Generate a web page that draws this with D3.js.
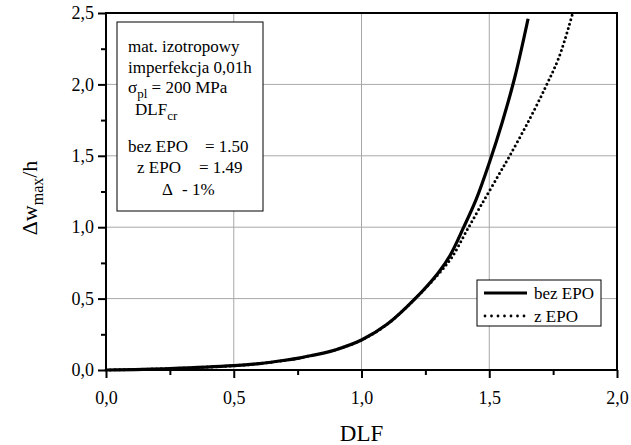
<!DOCTYPE html>
<html lang="pl">
<head>
    <meta charset="utf-8">
    <title>DLF</title>
    <script src="https://cdn.jsdelivr.net/npm/d3@7/dist/d3.min.js"></script>
    <style>
        body { margin: 0; background: #fff; }
    </style>
</head>
<body>
<script>
    // bez EPO (solid)
    var dlfBez = [0, 0.25, 0.5, 0.6, 0.7, 0.76, 0.8, 0.85, 0.9, 1.0, 1.1, 1.21, 1.3, 1.346, 1.4, 1.45, 1.5, 1.55, 1.6, 1.652];
    var wBez   = [0, 0.01, 0.03, 0.045, 0.068, 0.085, 0.1, 0.118, 0.142, 0.21, 0.32, 0.5, 0.68, 0.8, 1.0, 1.2, 1.45, 1.73, 2.05, 2.46];
    // z EPO (dotted)
    var dlfZ = [0, 0.25, 0.5, 0.6, 0.7, 0.76, 0.8, 0.85, 0.9, 1.0, 1.1, 1.21, 1.3, 1.354, 1.41, 1.47, 1.535, 1.58, 1.65, 1.72, 1.775, 1.825];
    var wZ   = [0, 0.01, 0.03, 0.045, 0.068, 0.085, 0.1, 0.118, 0.142, 0.21, 0.32, 0.5, 0.67, 0.79, 0.97, 1.16, 1.36, 1.5, 1.73, 1.98, 2.2, 2.49];

    var xMajor = [0, 0.5, 1.0, 1.5, 2.0];
    var xMinor = [0.25, 0.75, 1.25, 1.75];
    var yMajor = [0, 0.5, 1.0, 1.5, 2.0, 2.5];
    var yMinor = [0.25, 0.75, 1.25, 1.75, 2.25];

    var width = 631, height = 445;
    var mLeft = 106, mRight = 617, mTop = 13, mBottom = 370;

    // pick a Times-like font that is really installed
    var serif = (function() {
        var ctx = document.createElement("canvas").getContext("2d");
        var probe = "mat. izotropowy 0,01h";
        ctx.font = "40px monospace";
        var base = ctx.measureText(probe).width;
        var list = ["Liberation Serif", "Tinos", "Times New Roman", "Nimbus Roman", "DejaVu Serif", "Noto Serif"];
        for (var i = 0; i < list.length; i++) {
            ctx.font = "40px '" + list[i] + "', monospace";
            if (Math.abs(ctx.measureText(probe).width - base) > 1) return "'" + list[i] + "', serif";
        }
        return "serif";
    })();

    var x = d3.scaleLinear().domain([0, 2]).range([mLeft, mRight]);
    var y = d3.scaleLinear().domain([0, 2.5]).range([mBottom, mTop]);
    var fmt = function(d) { return d3.format(".1f")(d).replace(".", ","); };

    var svg = d3.select("body").append("svg")
        .attr("width", width)
        .attr("height", height)
        .style("font-family", serif);

    // grid
    svg.append("g").selectAll("line")
        .data(xMajor.slice(1, -1))
        .enter().append("line")
        .attr("x1", function(d) { return x(d); })
        .attr("x2", function(d) { return x(d); })
        .attr("y1", mTop).attr("y2", mBottom)
        .attr("stroke", "#a8a8a8").attr("stroke-width", 1);
    svg.append("g").selectAll("line")
        .data(yMajor.slice(1, -1))
        .enter().append("line")
        .attr("y1", function(d) { return y(d); })
        .attr("y2", function(d) { return y(d); })
        .attr("x1", mLeft).attr("x2", mRight)
        .attr("stroke", "#a8a8a8").attr("stroke-width", 1);

    // curves
    var line = d3.line()
        .x(function(d) { return x(d[0]); })
        .y(function(d) { return y(d[1]); })
        .curve(d3.curveCatmullRom);

    svg.append("path")
        .datum(d3.zip(dlfBez, wBez))
        .attr("d", line)
        .attr("fill", "none").attr("stroke", "#000")
        .attr("stroke-width", 3.2);

    svg.append("path")
        .datum(d3.zip(dlfZ, wZ))
        .attr("d", line)
        .attr("fill", "none").attr("stroke", "#000")
        .attr("stroke-width", 3)
        .attr("stroke-linecap", "round")
        .attr("stroke-dasharray", "0 4.6");

    // frame
    svg.append("rect")
        .attr("x", mLeft).attr("y", mTop)
        .attr("width", mRight - mLeft).attr("height", mBottom - mTop)
        .attr("fill", "none").attr("stroke", "#000").attr("stroke-width", 2);

    // axes
    function styleAxis(g) {
        g.attr("font-family", null).attr("font-size", null);
        g.select(".domain").remove();
        g.selectAll(".tick line").attr("stroke", "#000").attr("stroke-width", 2);
        g.selectAll(".tick text").style("font-size", "18px");
    }
    svg.append("g").attr("transform", "translate(0," + mBottom + ")")
        .call(d3.axisBottom(x).tickValues(xMajor).tickSize(8).tickPadding(13).tickFormat(fmt))
        .call(styleAxis);
    svg.append("g").attr("transform", "translate(0," + mBottom + ")")
        .call(d3.axisBottom(x).tickValues(xMinor).tickSize(5).tickFormat(""))
        .call(styleAxis);
    svg.append("g").attr("transform", "translate(" + mLeft + ",0)")
        .call(d3.axisLeft(y).tickValues(yMajor).tickSize(8).tickPadding(4).tickFormat(fmt))
        .call(styleAxis);
    svg.append("g").attr("transform", "translate(" + mLeft + ",0)")
        .call(d3.axisLeft(y).tickValues(yMinor).tickSize(5).tickFormat(""))
        .call(styleAxis);

    // axis titles
    svg.append("text")
        .attr("x", (mLeft + mRight) / 2).attr("y", 441)
        .attr("text-anchor", "middle")
        .style("font-size", "23px")
        .text("DLF");

    var yt = svg.append("text")
        .attr("transform", "translate(37,198) rotate(-90)")
        .attr("text-anchor", "middle")
        .style("font-size", "22px");
    yt.append("tspan").text("Δw");
    yt.append("tspan").attr("dy", 6).style("font-size", "16px").text("max");
    yt.append("tspan").attr("dy", -6).text("/h");

    // info box
    svg.append("rect")
        .attr("x", 117).attr("y", 22).attr("width", 146).attr("height", 189)
        .attr("fill", "#fff").attr("stroke", "#000").attr("stroke-width", 1);

    var fs = "17px";
    function txt(xp, yp, s) {
        return svg.append("text").attr("x", xp).attr("y", yp).style("font-size", fs).text(s);
    }
    txt(128, 52, "mat. izotropowy");
    txt(128, 73, "imperfekcja 0,01h");
    var s1 = svg.append("text").attr("x", 128).attr("y", 93).style("font-size", fs);
    s1.append("tspan").text("σ");
    s1.append("tspan").attr("dy", 5).style("font-size", "13px").text("pl");
    s1.append("tspan").attr("dy", -5).text(" = 200 MPa");
    var s2 = svg.append("text").attr("x", 135).attr("y", 115).style("font-size", fs);
    s2.append("tspan").text("DLF");
    s2.append("tspan").attr("dy", 5).style("font-size", "13px").text("cr");
    txt(128, 152, "bez EPO");
    txt(205, 152, "= 1.50");
    txt(137, 173, "z EPO");
    txt(199, 173, "= 1.49");
    txt(162, 195, "Δ");
    txt(182, 195, "- 1%");

    // legend
    svg.append("rect")
        .attr("x", 477).attr("y", 280).attr("width", 124).attr("height", 46)
        .attr("fill", "#fff").attr("stroke", "#000").attr("stroke-width", 1);
    svg.append("line").attr("x1", 484).attr("x2", 527).attr("y1", 293).attr("y2", 293)
        .attr("stroke", "#000").attr("stroke-width", 3.2);
    svg.append("line").attr("x1", 485).attr("x2", 527).attr("y1", 316).attr("y2", 316)
        .attr("stroke", "#000").attr("stroke-width", 2.8)
        .attr("stroke-linecap", "round").attr("stroke-dasharray", "0 6.5");
    txt(534, 299, "bez EPO");
    txt(534, 322, "z EPO");
</script>
</body>
</html>
